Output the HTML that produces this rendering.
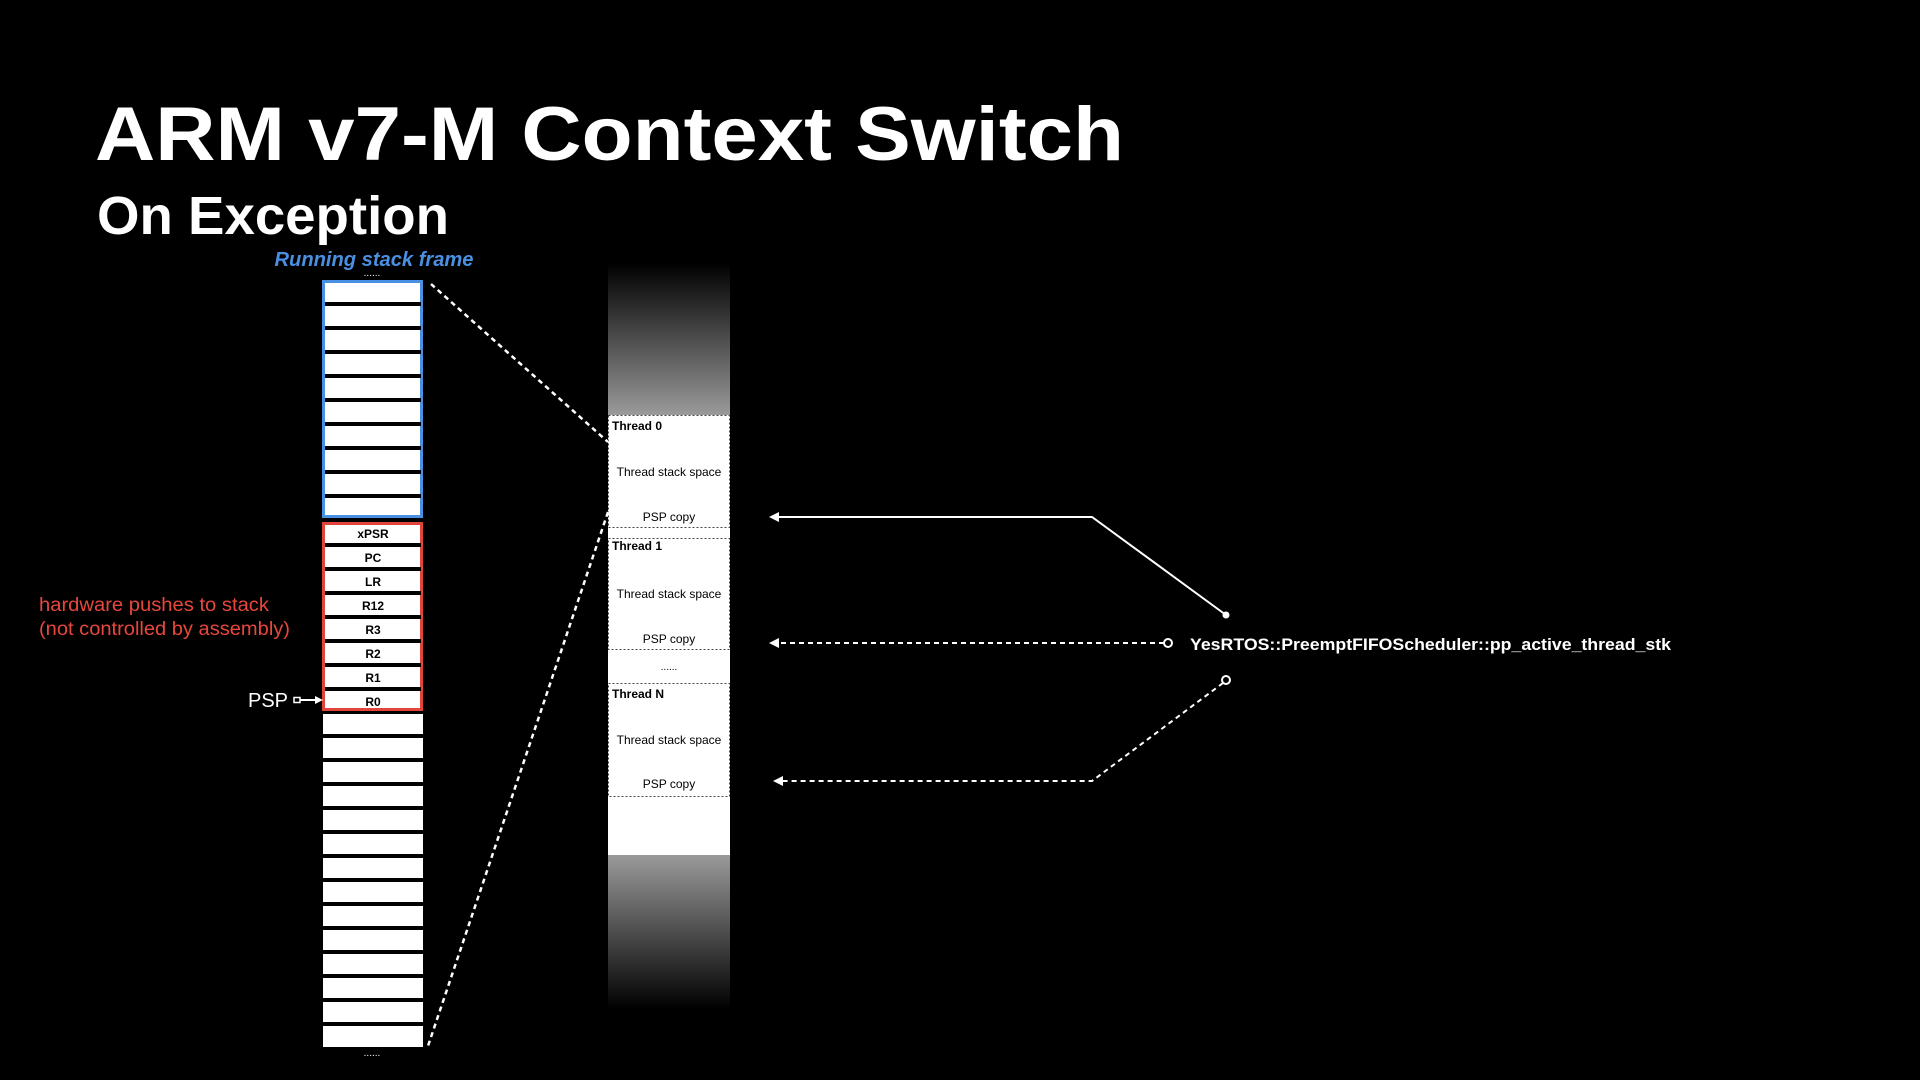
<!DOCTYPE html>
<html><head><meta charset="utf-8"><style>
html,body{margin:0;padding:0;background:#000;width:1920px;height:1080px;overflow:hidden}
svg{display:block}
text{font-family:"Liberation Sans",sans-serif}
</style></head><body>
<svg width="1920" height="1080" viewBox="0 0 1920 1080" xmlns="http://www.w3.org/2000/svg">
<defs>
<linearGradient id="gt" x1="0" y1="0" x2="0" y2="1"><stop offset="0" stop-color="#000"/><stop offset="1" stop-color="#9a9a9a"/></linearGradient>
<linearGradient id="gb" x1="0" y1="0" x2="0" y2="1"><stop offset="0" stop-color="#9a9a9a"/><stop offset="1" stop-color="#000"/></linearGradient>
</defs>
<rect width="1920" height="1080" fill="#000"/>
<text x="95" y="160" font-size="76" font-weight="bold" fill="#fff" textLength="1029" lengthAdjust="spacingAndGlyphs">ARM v7-M Context Switch</text>
<text x="97" y="234" font-size="54" font-weight="bold" fill="#fff" textLength="352" lengthAdjust="spacingAndGlyphs">On Exception</text>
<text x="374" y="266" font-size="20" font-weight="bold" font-style="italic" fill="#4a90e2" text-anchor="middle" textLength="199" lengthAdjust="spacingAndGlyphs">Running stack frame</text>
<text x="372" y="276" font-size="10" fill="#fff" text-anchor="middle">......</text>

<rect x="323.5" y="281.5" width="98" height="235" fill="#fff" stroke="#4a90e2" stroke-width="3"/>
<g fill="#000">
<rect x="325" y="302" width="96" height="4"/><rect x="325" y="326" width="96" height="4"/><rect x="325" y="350" width="96" height="4"/>
<rect x="325" y="374" width="96" height="4"/><rect x="325" y="398" width="96" height="4"/><rect x="325" y="422" width="96" height="4"/>
<rect x="325" y="446" width="96" height="4"/><rect x="325" y="470" width="96" height="4"/><rect x="325" y="494" width="96" height="4"/>
</g>
<rect x="323.5" y="523.5" width="98" height="186" fill="#fff" stroke="#e0443a" stroke-width="3"/>
<g fill="#000">
<rect x="325" y="543" width="96" height="4"/><rect x="325" y="567" width="96" height="4"/><rect x="325" y="591" width="96" height="4"/>
<rect x="325" y="615" width="96" height="4"/><rect x="325" y="639" width="96" height="4"/><rect x="325" y="663" width="96" height="4"/>
<rect x="325" y="687" width="96" height="4"/>
</g>
<g font-size="12" font-weight="bold" fill="#000" text-anchor="middle">
<text x="373" y="538">xPSR</text><text x="373" y="562">PC</text><text x="373" y="586">LR</text><text x="373" y="610">R12</text>
<text x="373" y="634">R3</text><text x="373" y="658">R2</text><text x="373" y="682">R1</text><text x="373" y="706">R0</text>
</g>
<g fill="#fff">
<rect x="323" y="714" width="100" height="20"/><rect x="323" y="738" width="100" height="20"/><rect x="323" y="762" width="100" height="20"/>
<rect x="323" y="786" width="100" height="20"/><rect x="323" y="810" width="100" height="20"/><rect x="323" y="834" width="100" height="20"/>
<rect x="323" y="858" width="100" height="20"/><rect x="323" y="882" width="100" height="20"/><rect x="323" y="906" width="100" height="20"/>
<rect x="323" y="930" width="100" height="20"/><rect x="323" y="954" width="100" height="20"/><rect x="323" y="978" width="100" height="20"/>
<rect x="323" y="1002" width="100" height="20"/><rect x="323" y="1026" width="100" height="21"/>
</g>
<text x="372" y="1056" font-size="10" fill="#fff" text-anchor="middle">......</text>

<text x="39" y="611" font-size="19" fill="#e8473b" textLength="230" lengthAdjust="spacingAndGlyphs">hardware pushes to stack</text>
<text x="39" y="635" font-size="19" fill="#e8473b" textLength="251" lengthAdjust="spacingAndGlyphs">(not controlled by assembly)</text>
<text x="248" y="707" font-size="20" fill="#fff">PSP</text>
<rect x="294" y="697.5" width="6" height="5" fill="none" stroke="#fff" stroke-width="1.5"/>
<line x1="300" y1="700" x2="317" y2="700" stroke="#fff" stroke-width="2"/>
<polygon points="323,700 315,696 315,704" fill="#fff"/>

<rect x="608" y="263" width="122" height="152" fill="url(#gt)"/>
<rect x="608" y="415" width="122" height="440" fill="#fff"/>
<rect x="608" y="855" width="122" height="155" fill="url(#gb)"/>
<g fill="none" stroke="#444" stroke-width="1" stroke-dasharray="2,2">
<rect x="608.5" y="415.5" width="121" height="112"/>
<rect x="608.5" y="538.5" width="121" height="111"/>
<rect x="608.5" y="683.5" width="121" height="113"/>
</g>
<g font-size="12" fill="#000">
<text x="612" y="430" font-weight="bold">Thread 0</text>
<text x="669" y="476" text-anchor="middle">Thread stack space</text>
<text x="669" y="521" text-anchor="middle">PSP copy</text>
<text x="612" y="550" font-weight="bold">Thread 1</text>
<text x="669" y="598" text-anchor="middle">Thread stack space</text>
<text x="669" y="643" text-anchor="middle">PSP copy</text>
<text x="669" y="670" text-anchor="middle" font-size="10">......</text>
<text x="612" y="698" font-weight="bold">Thread N</text>
<text x="669" y="744" text-anchor="middle">Thread stack space</text>
<text x="669" y="788" text-anchor="middle">PSP copy</text>
</g>

<g stroke="#fff" stroke-width="2.5" stroke-dasharray="5,4" fill="none">
<line x1="431" y1="284" x2="608" y2="442"/>
<line x1="608" y1="512" x2="428" y2="1046"/>
</g>

<polyline points="1226,615 1092,517 776,517" fill="none" stroke="#fff" stroke-width="2"/>
<polygon points="769,517 779,512 779,522" fill="#fff"/>
<circle cx="1226" cy="615" r="3.5" fill="#fff"/>

<line x1="1164" y1="643" x2="778" y2="643" stroke="#fff" stroke-width="2" stroke-dasharray="5,4"/>
<polygon points="769,643 779,638 779,648" fill="#fff"/>
<circle cx="1168" cy="643" r="4" fill="#000" stroke="#fff" stroke-width="2"/>

<polyline points="1223,683 1092,781 782,781" fill="none" stroke="#fff" stroke-width="2" stroke-dasharray="5,4"/>
<polygon points="773,781 783,776 783,786" fill="#fff"/>
<circle cx="1226" cy="680" r="4" fill="#000" stroke="#fff" stroke-width="2"/>

<text x="1190" y="650" font-size="17" font-weight="bold" fill="#fff" textLength="481" lengthAdjust="spacingAndGlyphs">YesRTOS::PreemptFIFOScheduler::pp_active_thread_stk</text>
</svg>
</body></html>
